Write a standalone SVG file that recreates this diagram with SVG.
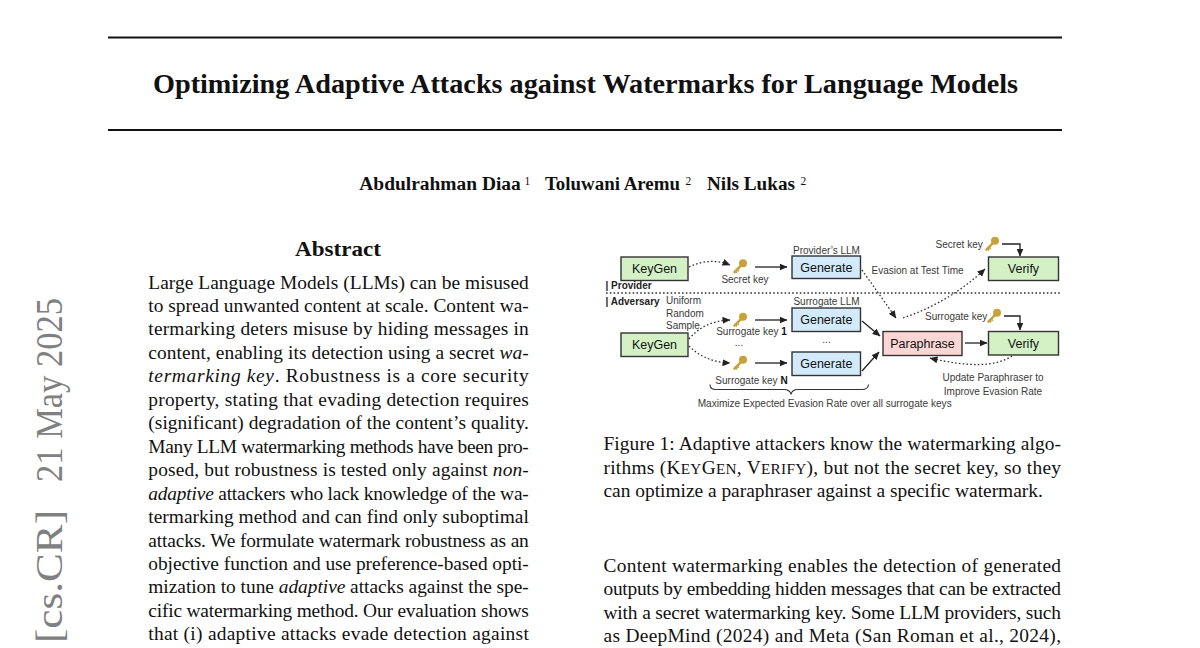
<svg xmlns="http://www.w3.org/2000/svg" width="1200" height="648" viewBox="0 0 1200 648">
<style>
.serif{font-family:"Liberation Serif","Times New Roman",serif;fill:#111}
.body{font-size:19.4px}
.b{font-weight:bold}
.i{font-style:italic}
.sc{font-size:15.3px}
.fig{font-family:"Liberation Sans",Arial,sans-serif}
.lbl{font-size:12.5px;fill:#111;text-anchor:middle}
.ann{font-size:10px;fill:#3a3a3a}
.role{font-size:10px;fill:#222;font-weight:bold}
.box{stroke:#333;stroke-width:1.4}
.green{fill:#d4f1c6}
.blue{fill:#d2eafa}
.pink{fill:#fbd6d4}
.solid{stroke:#222;stroke-width:1.3;fill:none;marker-end:url(#ah)}
.dot{stroke:#333;stroke-width:1.3;fill:none;stroke-dasharray:1.6 2.2;marker-end:url(#ah)}
.rule{stroke:#111;stroke-width:1.8}
</style>
<defs>
<marker id="ah" markerUnits="userSpaceOnUse" markerWidth="8" markerHeight="7" refX="7.5" refY="3.5" orient="auto">
<path d="M0,0 L8,3.5 L0,7 z" fill="#222"/>
</marker>
<g id="key">
<circle cx="3" cy="-3.2" r="4" fill="#c9a13b"/>
<path d="M1.2,-1.2 L-5.6,5.6" stroke="#c9a13b" stroke-width="2.5" stroke-linecap="round"/>
<path d="M-3,3 L-1.2,4.8 M-4.6,4.6 L-3,6.4" stroke="#c9a13b" stroke-width="1.7"/>
</g>
</defs>
<rect width="1200" height="648" fill="#fff"/>

<!-- arXiv stamp -->
<g id="stamp" class="serif" style="fill:#808080;font-size:38px">
<text transform="translate(61.5,643) rotate(-90)" textLength="133" lengthAdjust="spacingAndGlyphs" style="fill:#808080">[cs.CR]</text>
<text transform="translate(61.5,482) rotate(-90)" textLength="184" lengthAdjust="spacingAndGlyphs" style="fill:#808080">21 May 2025</text>
</g>

<!-- header -->
<line class="rule" x1="108" y1="37.5" x2="1062" y2="37.5"/>
<text class="serif b" x="153" y="92.5" font-size="27.5" textLength="865" lengthAdjust="spacingAndGlyphs">Optimizing Adaptive Attacks against Watermarks for Language Models</text>
<line class="rule" x1="108" y1="130" x2="1062" y2="130"/>

<g id="authors" class="serif">
<text class="b" x="359.3" y="190" font-size="19.4" textLength="161.5" lengthAdjust="spacingAndGlyphs">Abdulrahman Diaa</text>
<text x="524.5" y="184.5" font-size="11.5">1</text>
<text class="b" x="545" y="190" font-size="19.4" textLength="135" lengthAdjust="spacingAndGlyphs">Toluwani Aremu</text>
<text x="685.5" y="184.5" font-size="11.5">2</text>
<text class="b" x="707" y="190" font-size="19.4" textLength="88" lengthAdjust="spacingAndGlyphs">Nils Lukas</text>
<text x="800.5" y="184.5" font-size="11.5">2</text>
</g>

<!-- abstract -->
<g id="abstract" class="serif body">
<text class="b" x="338" y="255.5" text-anchor="middle" font-size="22" textLength="86" lengthAdjust="spacingAndGlyphs">Abstract</text>
<text x="148.3" y="288.5" textLength="380.5">Large Language Models (LLMs) can be misused</text>
<text x="148.3" y="312" textLength="380.5">to spread unwanted content at scale. Content wa-</text>
<text x="148.3" y="335.4" textLength="380.5">termarking deters misuse by hiding messages in</text>
<text x="148.3" y="358.9" textLength="380.5">content, enabling its detection using a secret <tspan class="i">wa-</tspan></text>
<text x="148.3" y="382.3" textLength="380.5"><tspan class="i">termarking key</tspan>.  Robustness is a core security</text>
<text x="148.3" y="405.8" textLength="380.5">property, stating that evading detection requires</text>
<text x="148.3" y="429.2" textLength="380.5">(significant) degradation of the content’s quality.</text>
<text x="148.3" y="452.7" textLength="380.5">Many LLM watermarking methods have been pro-</text>
<text x="148.3" y="476.1" textLength="380.5">posed, but robustness is tested only against <tspan class="i">non-</tspan></text>
<text x="148.3" y="499.6" textLength="380.5"><tspan class="i">adaptive</tspan> attackers who lack knowledge of the wa-</text>
<text x="148.3" y="523" textLength="380.5">termarking method and can find only suboptimal</text>
<text x="148.3" y="546.5" textLength="380.5">attacks. We formulate watermark robustness as an</text>
<text x="148.3" y="569.9" textLength="380.5">objective function and use preference-based opti-</text>
<text x="148.3" y="593.4" textLength="380.5">mization to tune <tspan class="i">adaptive</tspan> attacks against the spe-</text>
<text x="148.3" y="616.8" textLength="380.5">cific watermarking method. Our evaluation shows</text>
<text x="148.3" y="640.3" textLength="380.5">that (i) adaptive attacks evade detection against</text>
</g>

<!-- figure 1 -->
<g id="figure1" class="fig">
<line x1="606" y1="293" x2="1062" y2="293" stroke="#333" stroke-width="1.3" stroke-dasharray="1.6 2.2"/>
<text class="role" x="605.5" y="288.5">| Provider</text>
<text class="role" x="605.5" y="305">| Adversary</text>

<g id="connectors">
<path class="dot" d="M689,267 Q710,257 730,265"/>
<path class="solid" d="M755,267 H787"/>
<path class="dot" d="M689,339 Q704,321 730,320"/>
<path class="dot" d="M689,346 Q705,362 730,363"/>
<path class="solid" d="M755,320 H787"/>
<path class="solid" d="M755,363 H787"/>
<path class="solid" d="M862,321 L880,336"/>
<path class="solid" d="M862,371 L879,352"/>
<path class="dot" d="M862,270 L896,318"/>
<path class="dot" d="M903,318 Q950,302 985,269"/>
<path class="solid" d="M1002,244 H1020 V256"/>
<path class="solid" d="M1004,316 H1020 V330"/>
<path class="solid" d="M965,343 H987"/>
<path class="dot" d="M1012,356 Q988,372 930,358"/>
<path d="M710,384.5 Q710,389.5 716,389.5 H784 Q790,389.5 791,394.5 Q792,389.5 798,389.5 H862 Q868,389.5 868.5,384.5" fill="none" stroke="#333" stroke-width="1.1"/>
</g>

<g id="keygen-provider">
<rect class="box green" x="621" y="257" width="67" height="23.5"/>
<text class="lbl" x="654.5" y="273.3">KeyGen</text>
</g>
<g id="secret-key">
<use href="#key" x="740" y="266.5"/>
<text class="ann" x="745" y="282.5" text-anchor="middle">Secret key</text>
</g>
<g id="generate-provider">
<text class="ann" x="826.5" y="253.5" text-anchor="middle">Provider’s LLM</text>
<rect class="box blue" x="792" y="256" width="68.5" height="22.5"/>
<text class="lbl" x="826.3" y="271.8">Generate</text>
</g>
<text class="ann" x="871.5" y="273.5">Evasion at Test Time</text>
<g id="verify-provider">
<text class="ann" x="935.5" y="247.5">Secret key</text>
<use href="#key" x="992" y="244"/>
<rect class="box green" x="988.5" y="257" width="70" height="23.5"/>
<text class="lbl" x="1023.5" y="273.3">Verify</text>
</g>

<g id="keygen-adversary">
<text class="ann" x="666" y="304">Uniform</text>
<text class="ann" x="666" y="316.5">Random</text>
<text class="ann" x="666" y="329">Sample</text>
<rect class="box green" x="621" y="333" width="67" height="23.5"/>
<text class="lbl" x="654.5" y="349.3">KeyGen</text>
</g>
<g id="surrogate-key-1">
<use href="#key" x="740" y="320"/>
<text class="ann" x="751.5" y="334.5" text-anchor="middle">Surrogate key <tspan font-weight="bold" fill="#111">1</tspan></text>
</g>
<text class="ann" x="739" y="346" text-anchor="middle">...</text>
<g id="surrogate-key-n">
<use href="#key" x="740" y="363"/>
<text class="ann" x="751.5" y="383.5" text-anchor="middle">Surrogate key <tspan font-weight="bold" fill="#111">N</tspan></text>
</g>
<g id="generate-surrogate-1">
<text class="ann" x="826.5" y="305" text-anchor="middle">Surrogate LLM</text>
<rect class="box blue" x="792" y="308" width="68.5" height="23.5"/>
<text class="lbl" x="826.3" y="324.3">Generate</text>
</g>
<text class="ann" x="826.5" y="343" text-anchor="middle">...</text>
<g id="generate-surrogate-n">
<rect class="box blue" x="792" y="352" width="68.5" height="23.5"/>
<text class="lbl" x="826.3" y="368.3">Generate</text>
</g>
<g id="paraphrase">
<rect class="box pink" x="883" y="331.5" width="79" height="24"/>
<text class="lbl" x="922.5" y="348">Paraphrase</text>
</g>
<g id="verify-adversary">
<text class="ann" x="925" y="319.5">Surrogate key</text>
<use href="#key" x="994" y="316"/>
<rect class="box green" x="988.5" y="331.5" width="70" height="23.5"/>
<text class="lbl" x="1023.5" y="347.8">Verify</text>
</g>
<text class="ann" x="993" y="380.5" text-anchor="middle">Update Paraphraser to</text>
<text class="ann" x="993" y="394.5" text-anchor="middle">Improve Evasion Rate</text>
<text class="ann" x="697.7" y="406.5" textLength="254" lengthAdjust="spacingAndGlyphs">Maximize Expected Evasion Rate over all surrogate keys</text>
</g>

<!-- caption and body -->
<g id="caption" class="serif body">
<text x="603.5" y="450" textLength="457.5">Figure 1: Adaptive attackers know the watermarking algo-</text>
<text x="603.5" y="473.5" textLength="457.5">rithms (K<tspan class="sc">EY</tspan>G<tspan class="sc">EN</tspan>, V<tspan class="sc">ERIFY</tspan>), but not the secret key, so they</text>
<text x="603.5" y="497">can optimize a paraphraser against a specific watermark.</text>
</g>
<g id="intro" class="serif body">
<text x="603.5" y="571.5" textLength="457.5">Content watermarking enables the detection of generated</text>
<text x="603.5" y="595" textLength="457.5">outputs by embedding hidden messages that can be extracted</text>
<text x="603.5" y="618.5" textLength="457.5">with a secret watermarking key. Some LLM providers, such</text>
<text x="603.5" y="642" textLength="457.5">as DeepMind (2024) and Meta (San Roman et al., 2024),</text>
</g>
</svg>
